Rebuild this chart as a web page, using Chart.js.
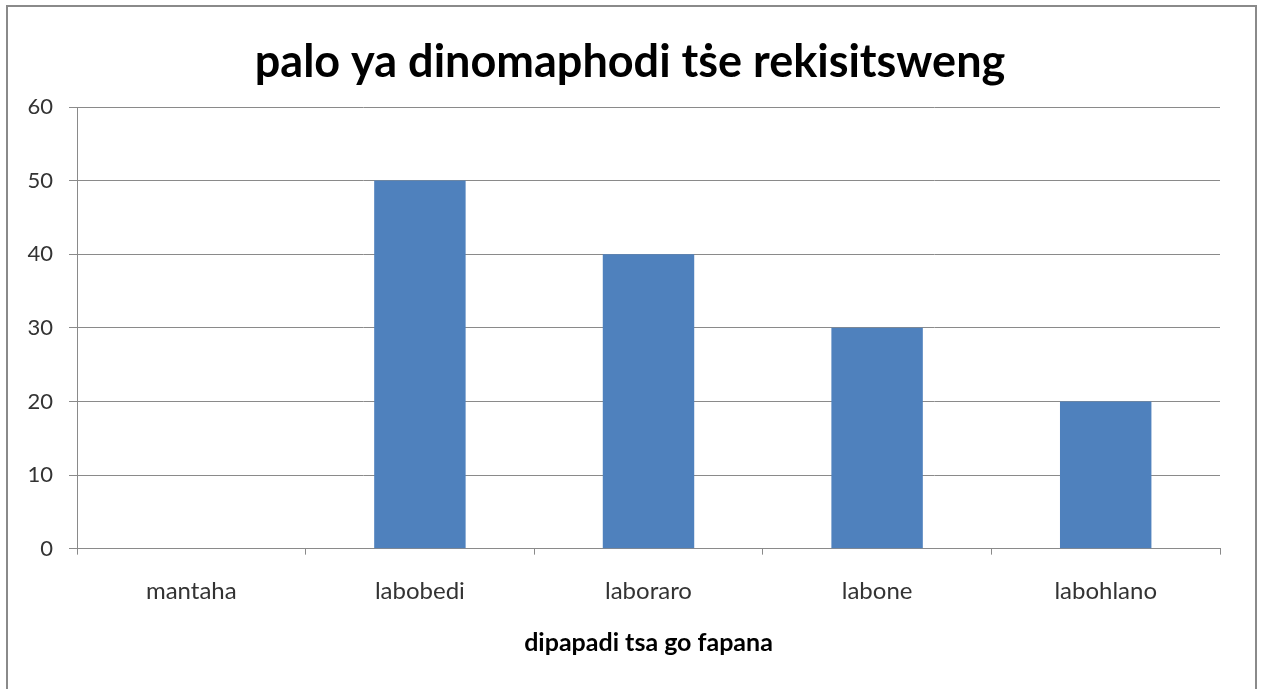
<!DOCTYPE html>
<html>
<head>
<meta charset="utf-8">
<script src="https://cdn.jsdelivr.net/npm/chart.js@4/dist/chart.umd.min.js"></script>
<style>
html,body{margin:0;padding:0;background:#fff;}
#wrap{width:1263px;height:689px;position:relative;}
</style>
</head>
<body>
<div id="wrap"><canvas id="c" width="1263" height="689"></canvas></div>
<script>
const categories = ["mantaha", "labobedi", "laboraro", "labone", "labohlano"];
const values = [0, 50, 40, 30, 20];
const chartTitle = "palo ya dinomaphodi tṡe rekisitsweng";
const xTitle = "dipapadi tsa go fapana";
const yMin = 0, yMax = 60, yStep = 10;

const borderPlugin = {
  id: 'outerBorder',
  afterLayout(chart) {
    const t = chart.titleBlock;
    if (t) { t.left = 40; t.right = 1220; t.width = t.right - t.left; }
  },
  beforeDraw(chart) {
    const ctx = chart.ctx;
    ctx.save();
    ctx.fillStyle = '#fff';
    ctx.fillRect(0, 0, chart.width, chart.height);
    ctx.strokeStyle = '#8a8a8a';
    ctx.lineWidth = 2;
    ctx.beginPath();
    ctx.moveTo(7, 700);
    ctx.lineTo(7, 6);
    ctx.lineTo(1256, 6);
    ctx.lineTo(1256, 700);
    ctx.stroke();
    ctx.restore();
  }
};

new Chart(document.getElementById('c'), {
  type: 'bar',
  data: {
    labels: categories,
    datasets: [{
      data: values,
      backgroundColor: '#4F81BD',
      borderWidth: 0,
      categoryPercentage: 1.0,
      barPercentage: 0.4
    }]
  },
  plugins: [borderPlugin],
  options: {
    responsive: false,
    animation: false,
    layout: { padding: { left: 0, right: 43, top: 0, bottom: 32 } },
    plugins: {
      legend: { display: false },
      tooltip: { enabled: false },
      title: {
        display: true,
        text: chartTitle,
        color: '#000',
        font: { family: 'Lato', size: 45, weight: 'bold', lineHeight: 1.2 },
        padding: { top: 35, bottom: 18 }
      }
    },
    scales: {
      x: {
        grid: { display: true, drawOnChartArea: false, drawTicks: true, tickLength: 6, color: '#8a8a8a' },
        border: { color: '#8a8a8a', width: 1 },
        ticks: { color: '#333', padding: 23, font: { family: 'Lato', size: 24, lineHeight: 1.15 } },
        title: {
          display: true, text: xTitle, color: '#000',
          font: { family: 'Lato', size: 25, weight: 'bold', lineHeight: 1.15 },
          padding: { top: 0, bottom: 0 }
        }
      },
      y: {
        min: yMin, max: yMax,
        afterFit(scale) { scale.width = 77; },
        grid: { color: '#8a8a8a', drawTicks: true, tickLength: 8 },
        border: { color: '#8a8a8a', width: 1 },
        ticks: { stepSize: yStep, color: '#333', padding: 16, font: { family: 'Lato', size: 22 } }
      }
    }
  }
});
</script>
</body>
</html>
